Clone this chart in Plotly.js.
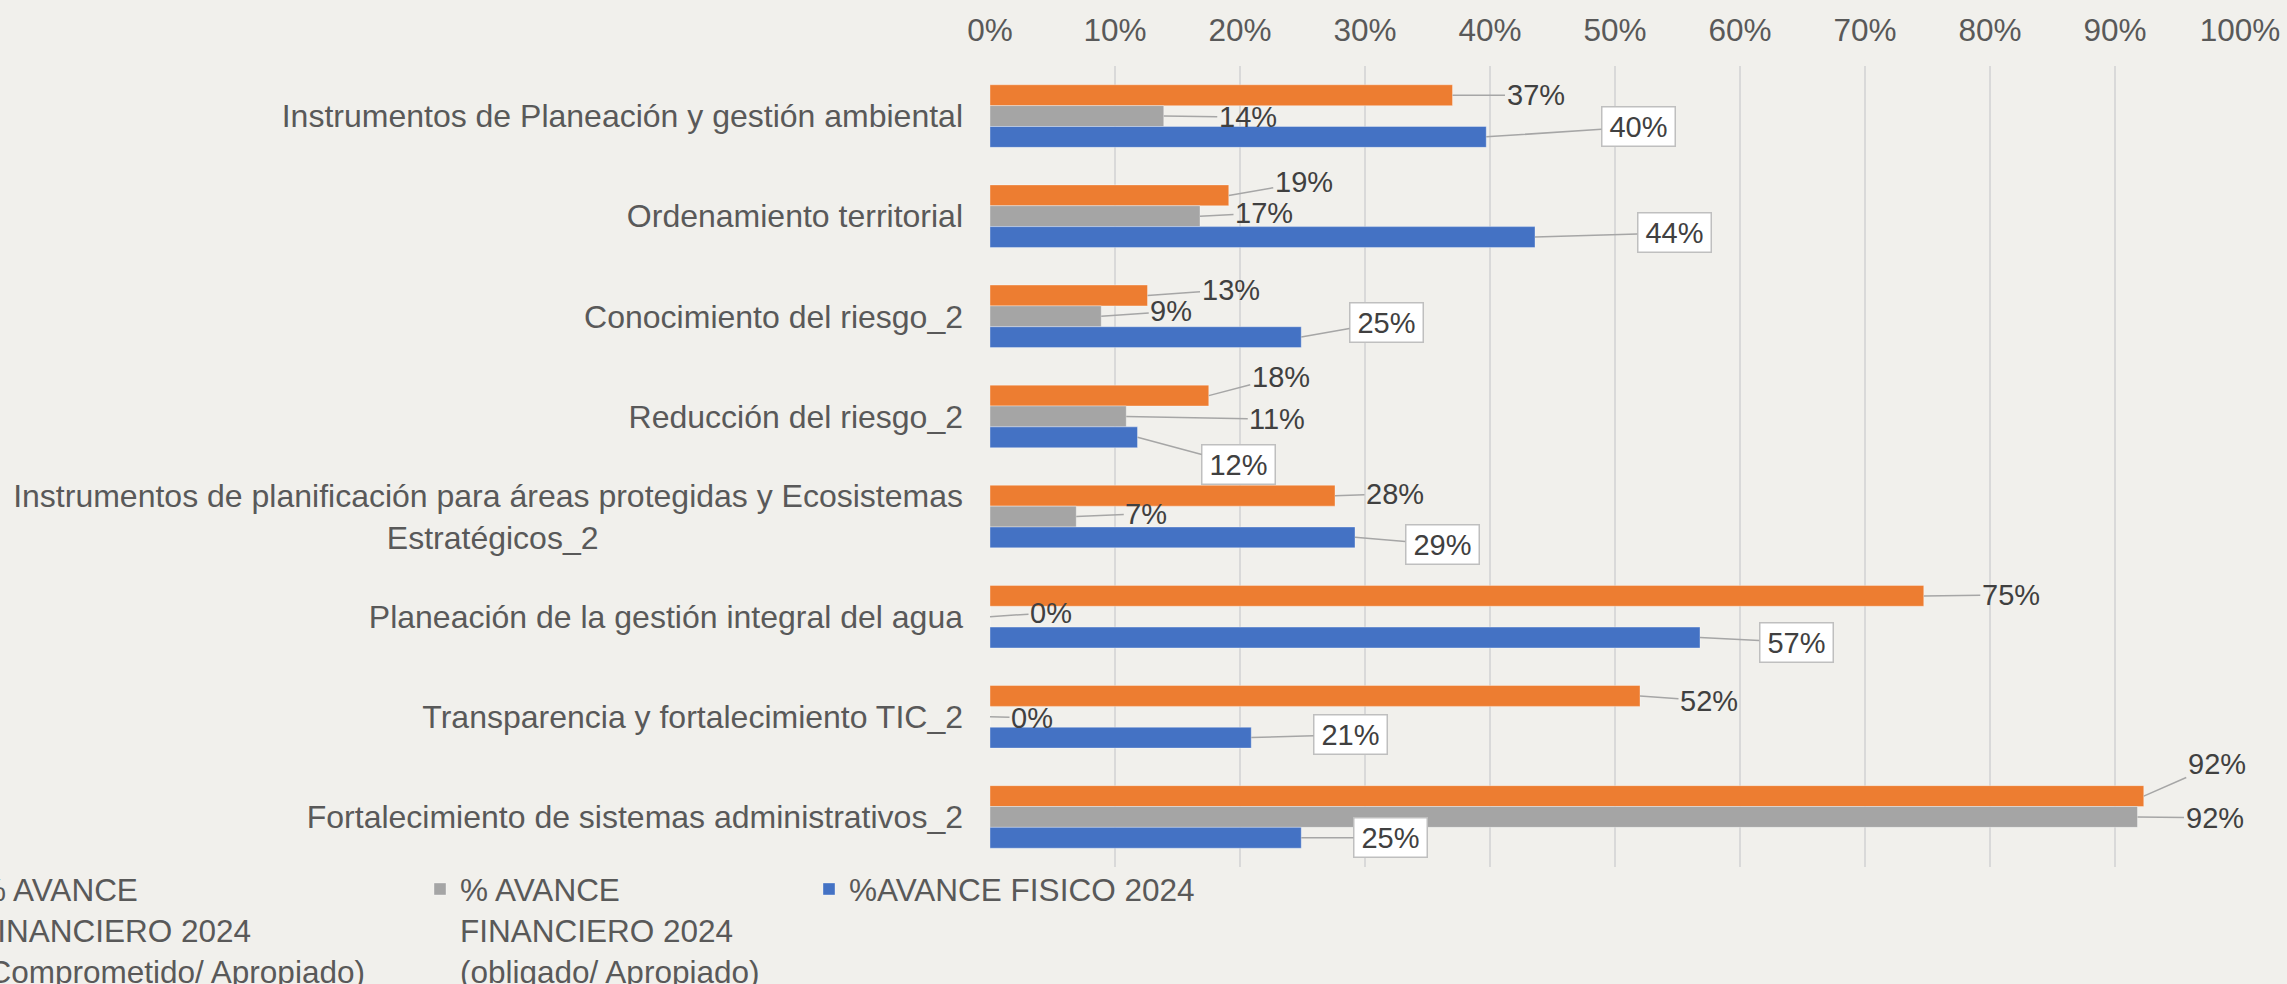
<!DOCTYPE html>
<html>
<head>
<meta charset="utf-8">
<script src="https://cdn.plot.ly/plotly-3.0.1.min.js"></script>
<style>
  html, body { margin: 0; padding: 0; background: #f1f0ec; }
  #chart { width: 2287px; height: 984px; }
</style>
</head>
<body>
<div id="chart"></div>
<script>
// categories, top to bottom
const CATEGORIES = [
    'Instrumentos de Planeación y gestión ambiental',
    'Ordenamiento territorial',
    'Conocimiento del riesgo_2',
    'Reducción del riesgo_2',
    'Instrumentos de planificación para áreas protegidas y Ecosistemas Estratégicos_2',
    'Planeación de la gestión integral del agua',
    'Transparencia y fortalecimiento TIC_2',
    'Fortalecimiento de sistemas administrativos_2'
];

const SERIES_NAMES = [
    '% AVANCE<br>FINANCIERO 2024<br>(Comprometido/ Apropiado)',
    '% AVANCE<br>FINANCIERO 2024<br>(obligado/ Apropiado)',
    '%AVANCE FISICO 2024'
];

const COMPROMETIDO = [0.370, 0.191, 0.126, 0.175, 0.276, 0.747, 0.520, 0.923];
const OBLIGADO = [0.139, 0.168, 0.089, 0.109, 0.069, 0.000, 0.000, 0.918];
const FISICO = [0.397, 0.436, 0.249, 0.118, 0.292, 0.568, 0.209, 0.249];

const X_TICKS = [0, 0.1, 0.2, 0.3, 0.4, 0.5, 0.6, 0.7, 0.8, 0.9, 1];

const COLORS = ['#ED7D31', '#A5A5A5', '#4472C4'];
const TEXT_GREY = '#595959';
const FONT = 'Liberation Sans, Arial, sans-serif';

// label placement: pixel offset of each label from its bar end [dx, dy]
const LABEL_OFFSETS = [
    [[83, 0], [75, -13], [83, -6], [72, -19], [60, -2], [87, -1], [69, 5], [73, -32]],
    [[84, 1], [64, -3], [70, -5], [151, 3], [70, -3], [61, -4], [42, 1], [77, 1]],
    [[152, -10], [139, -4], [85, -15], [101, 27], [87, 7], [96, 5], [99, -3], [89, 0]]
];

const W = 2287, H = 984;
const M = { l: 990, r: 47, t: 66, b: 117 };
const plotW = W - M.l - M.r;
const plotH = H - M.t - M.b;
const paperX = px => (px - M.l) / plotW;
const paperY = py => (H - M.b - py) / plotH;

const BAR_STEP = 20.8;
const SHIFTS = [BAR_STEP, 0, -BAR_STEP];

// second line of the long label sits centred under the first
function tickLabel(cat) {
    if (cat.indexOf('Ecosistemas Estratégicos_2') === -1) return cat;
    return 'Instrumentos de planificación para áreas protegidas y Ecosistemas<br>Estratégicos_2' +
        '\u00a0'.repeat(41);
}

const allValues = [COMPROMETIDO, OBLIGADO, FISICO];
const legendIds = ['legend', 'legend2', 'legend3'];

const traces = allValues.map((vals, s) => ({
    type: 'bar',
    orientation: 'h',
    name: SERIES_NAMES[s],
    y: CATEGORIES,
    x: vals,
    legend: legendIds[s],
    marker: { color: COLORS[s], line: { color: 'rgba(255,255,255,0.35)', width: 1 } },
    hoverinfo: 'skip'
}));

const annotations = [];
allValues.forEach((vals, s) => {
    vals.forEach((v, i) => {
        const ann = {
            x: v,
            y: CATEGORIES[i],
            xref: 'x',
            yref: 'y',
            yshift: SHIFTS[s],
            text: Math.round(v * 100) + '%',
            showarrow: true,
            arrowhead: 0,
            arrowwidth: 1.5,
            arrowcolor: '#a6a6a6',
            ax: LABEL_OFFSETS[s][i][0],
            ay: LABEL_OFFSETS[s][i][1],
            font: { family: FONT, size: 29, color: '#404040' }
        };
        if (s === 2) {
            ann.bgcolor = '#ffffff';
            ann.bordercolor = '#bfbfbf';
            ann.borderwidth = 1.5;
            ann.borderpad = 3;
            ann.width = 66;
        }
        annotations.push(ann);
    });
});

function legendAt(textLeft) {
    return {
        x: paperX(textLeft - 40),
        y: paperY(862),
        xanchor: 'left',
        yanchor: 'top',
        orientation: 'h',
        valign: 'top',
        bgcolor: 'rgba(0,0,0,0)',
        font: { family: FONT, size: 31.5, color: TEXT_GREY }
    };
}

const layout = {
    width: W,
    height: H,
    margin: { l: M.l, r: M.r, t: M.t, b: M.b, autoexpand: false },
    paper_bgcolor: '#f1f0ec',
    plot_bgcolor: '#f1f0ec',
    barmode: 'group',
    bargap: 0.375,
    bargroupgap: 0,
    font: { family: FONT, color: TEXT_GREY },
    showlegend: true,
    legend: legendAt(-22),
    legend2: legendAt(460),
    legend3: legendAt(849),
    xaxis: {
        side: 'top',
        range: [0, 1],
        tickvals: X_TICKS,
        tickformat: '.0%',
        showgrid: true,
        gridcolor: '#d9d9d9',
        gridwidth: 1.5,
        zeroline: false,
        showline: false,
        ticks: '',
        ticklabelstandoff: 18,
        automargin: false,
        tickfont: { family: FONT, size: 31.5, color: TEXT_GREY }
    },
    yaxis: {
        type: 'category',
        range: [CATEGORIES.length - 0.5, -0.5],
        autorange: false,
        tickvals: CATEGORIES,
        ticktext: CATEGORIES.map(tickLabel),
        showgrid: false,
        zeroline: false,
        showline: false,
        ticks: '',
        ticklabelstandoff: 26,
        automargin: false,
        tickfont: { family: FONT, size: 32, color: TEXT_GREY }
    },
    annotations: annotations
};

Plotly.newPlot('chart', traces, layout, { displayModeBar: false, staticPlot: true });
</script>
</body>
</html>
